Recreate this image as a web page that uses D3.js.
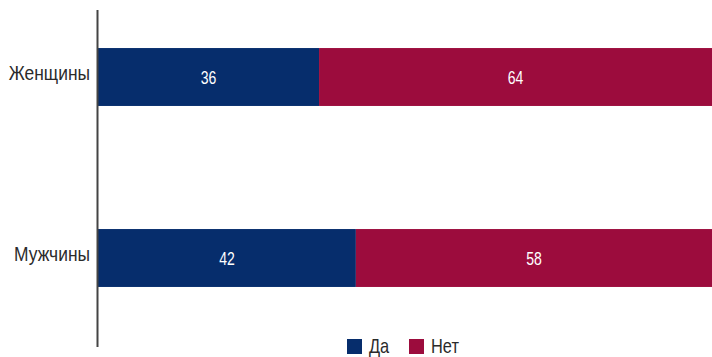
<!DOCTYPE html>
<html>
<head>
<meta charset="utf-8">
<script src="https://cdn.jsdelivr.net/npm/d3@7"></script>
<style>
  html, body { margin: 0; padding: 0; background: #fff; }
  svg { display: block; font-family: "Liberation Sans", Arial, sans-serif; }
</style>
</head>
<body>
<svg id="chart" width="712" height="357"></svg>
<script>
// Share of answers by group, percent
const categories = ["Женщины", "Мужчины"];
const seriesNames = ["Да", "Нет"];
const yesValues = [36, 42];
const noValues = [64, 58];
const colors = ["#062d6c", "#9c0c3d"];

const svg = d3.select("#chart");
const W = 712, H = 357;
const margin = { left: 98, right: 0 };

const rows = categories.map((c, i) => ({ cat: c, "Да": yesValues[i], "Нет": noValues[i] }));
const stacked = d3.stack().keys(seriesNames)(rows);

const x = d3.scaleLinear().domain([0, 100]).range([margin.left, W - margin.right]);
const y = d3.scaleBand().domain(categories).range([-13.5, 348.5]).paddingInner(0.68).paddingOuter(0.34);

const color = d3.scaleOrdinal().domain(seriesNames).range(colors);

// bars
const groups = svg.selectAll("g.series").data(stacked).join("g")
  .attr("class", "series")
  .attr("fill", d => color(d.key));

groups.selectAll("rect").data(d => d).join("rect")
  .attr("x", d => x(d[0]))
  .attr("y", d => y(d.data.cat))
  .attr("width", d => x(d[1]) - x(d[0]))
  .attr("height", y.bandwidth());

// value labels, horizontally condensed
groups.selectAll("g.val").data(d => d).join("g")
  .attr("class", "val")
  .attr("transform", d => `translate(${(x(d[0]) + x(d[1])) / 2},${y(d.data.cat) + y.bandwidth() / 2 + 7}) scale(0.78,1)`)
  .append("text")
  .attr("text-anchor", "middle")
  .attr("fill", "#fff")
  .attr("font-size", 18)
  .text(d => d[1] - d[0]);

// category axis
const yAxis = d3.axisLeft(y).tickSize(0).tickPadding(8);
const axisG = svg.append("g")
  .attr("transform", `translate(${margin.left - 1},0)`)
  .call(yAxis);
axisG.select(".domain").remove();
axisG.selectAll("text")
  .attr("dy", null)
  .attr("y", 0)
  .attr("x", 0)
  .attr("transform", "translate(-7,2.5) scale(0.87,1)")
  .attr("font-size", 20)
  .attr("fill", "#2b2b2b")
  .attr("font-family", null);

svg.append("line")
  .attr("x1", margin.left - 0.5).attr("x2", margin.left - 0.5)
  .attr("y1", 10).attr("y2", 347)
  .attr("stroke", "#444").attr("stroke-width", 2);

// legend
const legendX = [347, 409];
const legend = svg.selectAll("g.legend").data(seriesNames).join("g")
  .attr("class", "legend")
  .attr("transform", (d, i) => `translate(${legendX[i]},339)`);
legend.append("rect")
  .attr("width", 15).attr("height", 15)
  .attr("fill", d => color(d));
legend.append("g")
  .attr("transform", "translate(22,13.5) scale(0.82,1)")
  .append("text")
  .attr("font-size", 20)
  .attr("fill", "#2b2b2b")
  .text(d => d);
</script>
</body>
</html>
